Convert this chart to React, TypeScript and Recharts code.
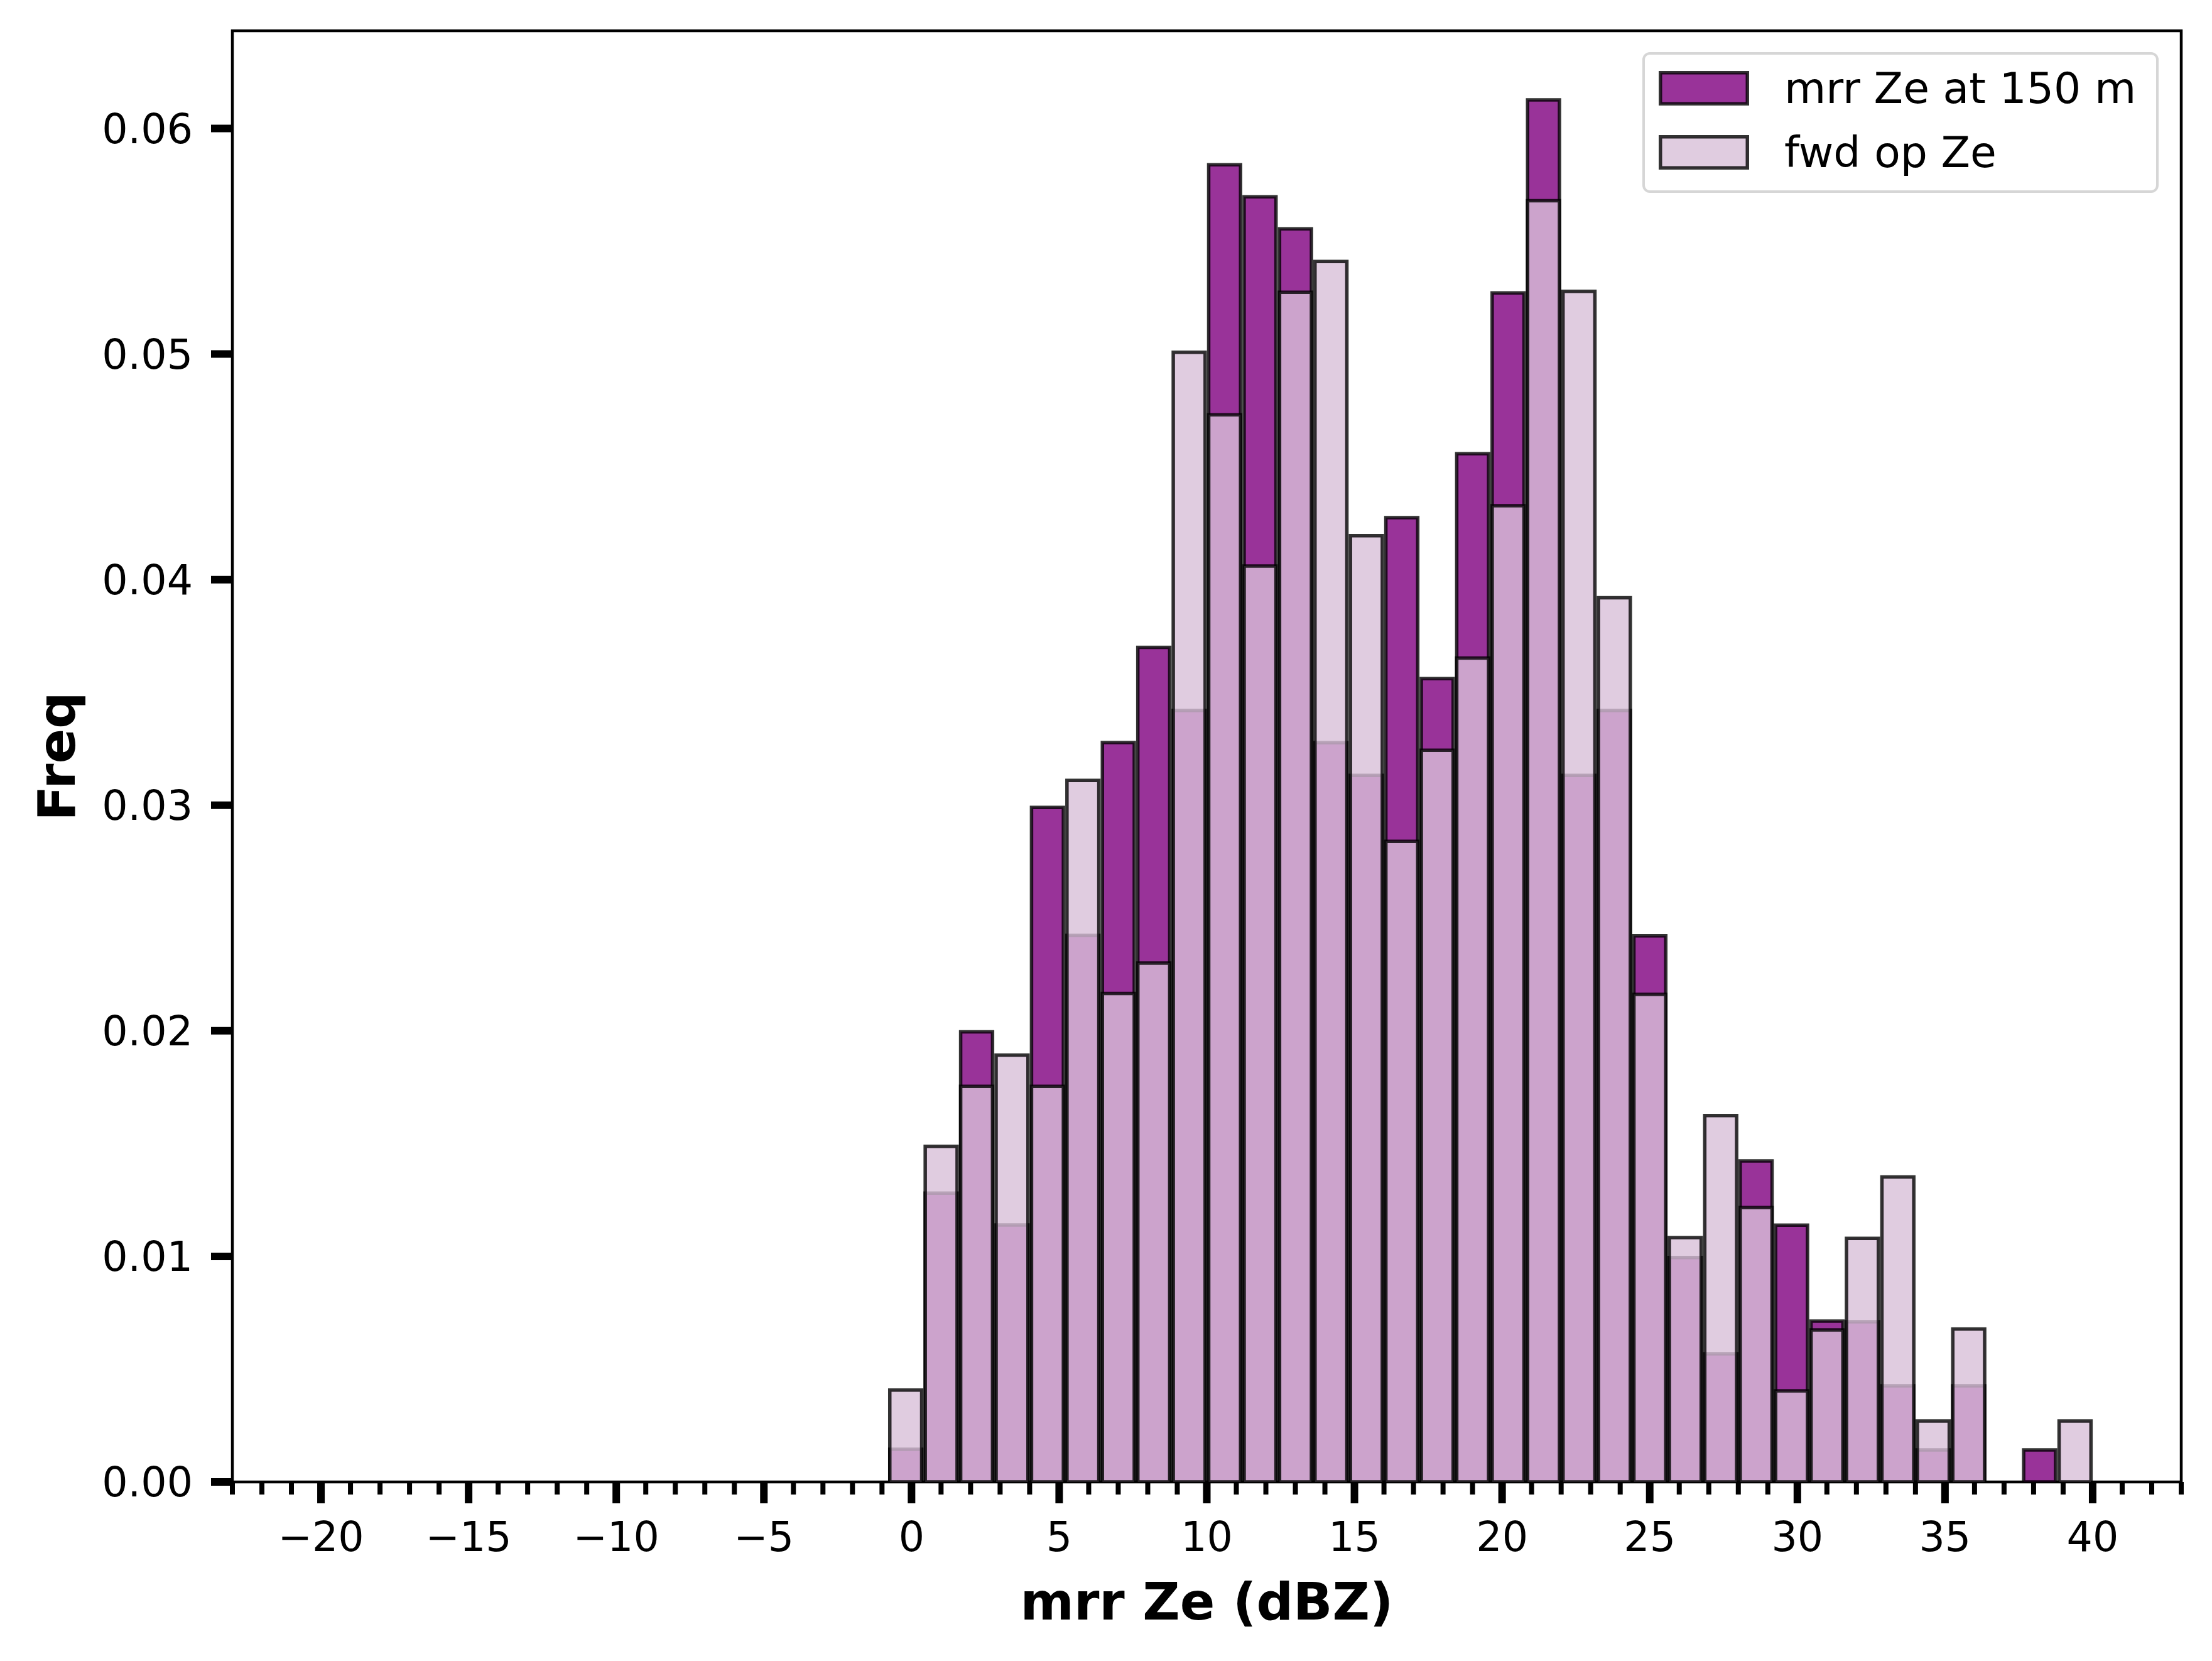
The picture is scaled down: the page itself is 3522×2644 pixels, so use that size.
import { Bar, ComposedChart, Legend, ReferenceArea, XAxis, YAxis } from "recharts";

// histogram bins (centre of each 1.2 dBZ bin)
const binCenters = [
  -0.2, 1.0, 2.2, 3.4, 4.6, 5.8, 7.0, 8.2, 9.4, 10.6, 11.8, 13.0, 14.2, 15.4, 16.6, 17.8, 19.0,
  20.2, 21.4, 22.6, 23.8, 25.0, 26.2, 27.4, 28.6, 29.8, 31.0, 32.2, 33.4, 34.6, 35.8, 37.0, 38.2, 39.4,
];

const mrrFreq = [
  0.00145, 0.0128, 0.01995, 0.01139, 0.0299, 0.02423, 0.03278, 0.037, 0.0342, 0.05839, 0.05697,
  0.05555, 0.03277, 0.03132, 0.04275, 0.03561, 0.04558, 0.05271, 0.06127, 0.03132, 0.0342, 0.02421,
  0.00995, 0.00568, 0.01423, 0.01138, 0.00713, 0.0071, 0.00426, 0.00142, 0.00426, 0, 0.00142, 0,
];

const fwdFreq = [
  0.00407, 0.01488, 0.01754, 0.01892, 0.01754, 0.0311, 0.02165, 0.023, 0.05008, 0.04731, 0.0406,
  0.05274, 0.0541, 0.04195, 0.0284, 0.03244, 0.03652, 0.04328, 0.0568, 0.05278, 0.0392, 0.02162,
  0.01083, 0.01624, 0.01216, 0.00404, 0.00674, 0.0108, 0.01352, 0.0027, 0.00678, 0, 0, 0.0027,
];

// every integer gets a minor tick, multiples of 5 get a labelled major tick
const xTicks = [
  -23, -22, -21, -20, -19, -18, -17, -16, -15, -14, -13, -12, -11, -10, -9, -8, -7, -6, -5, -4, -3,
  -2, -1, 0, 1, 2, 3, 4, 5, 6, 7, 8, 9, 10, 11, 12, 13, 14, 15, 16, 17, 18, 19, 20, 21, 22, 23, 24,
  25, 26, 27, 28, 29, 30, 31, 32, 33, 34, 35, 36, 37, 38, 39, 40, 41, 42, 43,
];
const yTicks = [0, 0.01, 0.02, 0.03, 0.04, 0.05, 0.06];

const series = [
  { key: "mrr", name: "mrr Ze at 150 m", fill: "#800080" },
  { key: "fwd", name: "fwd op Ze", fill: "#d8bfd8" },
];

const X_DOMAIN = [-23, 43];
const Y_DOMAIN = [0, 0.06433];
const BIN_WIDTH = 1.2;

const W = 3522;
const H = 2644;
const MARGIN = { top: 49, right: 49, bottom: 0, left: 0 };
const Y_AXIS_W = 370;
const X_AXIS_H = 285;
const MAJOR_LEN = 34;
const MINOR_LEN = 20;
const TICK_MARGIN = 30;
const FONT = "'DejaVu Sans', sans-serif";

const plotW = W - MARGIN.left - MARGIN.right - Y_AXIS_W;
const barPx = (BIN_WIDTH * plotW) / (X_DOMAIN[1] - X_DOMAIN[0]);

const data = binCenters.map((x, i) => ({ x, mrr: mrrFreq[i], fwd: fwdFreq[i] }));

const tickStyle = { fill: "#000", fontSize: 65, fontFamily: FONT };
const fmtX = (v: number) => (v < 0 ? `\u2212${-v}` : `${v}`);

function ZeTick(props: any) {
  const { x, y, payload } = props;
  const major = payload.value % 5 === 0;
  const axisY = y - MAJOR_LEN - TICK_MARGIN;
  return (
    <g>
      <line
        x1={x}
        x2={x}
        y1={axisY}
        y2={axisY + (major ? MAJOR_LEN : MINOR_LEN)}
        stroke="#000"
        strokeWidth={major ? 12 : 8}
      />
      {major && (
        <text x={x} y={y} dy="0.71em" textAnchor="middle" {...tickStyle}>
          {fmtX(payload.value)}
        </text>
      )}
    </g>
  );
}

function HistLegend() {
  return (
    <div
      style={{
        boxSizing: "border-box",
        width: 822,
        height: 224,
        border: "4px solid #d6d6d6",
        borderRadius: 12,
        background: "#fff",
        padding: "26px 0 0 22px",
        fontFamily: FONT,
        fontSize: 68,
        color: "#000",
      }}
    >
      {series.map((s) => (
        <div key={s.key} style={{ display: "flex", alignItems: "center", height: 55, marginBottom: 47 }}>
          <svg width={144} height={55} style={{ display: "block" }}>
            <rect
              x={2.75}
              y={2.75}
              width={138.5}
              height={49.5}
              fill={s.fill}
              fillOpacity={0.8}
              stroke="#000"
              strokeOpacity={0.8}
              strokeWidth={5.5}
            />
          </svg>
          <span style={{ marginLeft: 56, whiteSpace: "nowrap" }}>{s.name}</span>
        </div>
      ))}
    </div>
  );
}

export default function App() {
  return (
    <div style={{ position: "absolute", left: 0, top: 0, width: W, height: H, background: "#fff" }}>
      <ComposedChart width={W} height={H} data={data} margin={MARGIN}>
        <XAxis
          xAxisId="ze"
          type="number"
          dataKey="x"
          domain={X_DOMAIN}
          ticks={xTicks}
          interval={0}
          height={X_AXIS_H}
          axisLine={false}
          tickLine={false}
          tick={<ZeTick />}
          tickSize={MAJOR_LEN}
          tickMargin={TICK_MARGIN}
          allowDataOverflow
          label={{
            value: "mrr Ze (dBZ)",
            position: "insideBottom",
            offset: 66,
            style: { fill: "#000", fontSize: 82, fontWeight: "bold", fontFamily: FONT },
          }}
        />
        <XAxis xAxisId="ze2" type="number" dataKey="x" domain={X_DOMAIN} allowDataOverflow hide />
        <YAxis
          type="number"
          domain={Y_DOMAIN}
          ticks={yTicks}
          interval={0}
          width={Y_AXIS_W}
          axisLine={false}
          tick={tickStyle}
          tickFormatter={(v: number) => v.toFixed(2)}
          tickSize={MAJOR_LEN}
          tickMargin={29}
          tickLine={{ stroke: "#000", strokeWidth: 12 }}
          allowDataOverflow
          label={{
            value: "Freq",
            angle: -90,
            position: "insideLeft",
            offset: 90,
            style: { fill: "#000", fontSize: 82, fontWeight: "bold", fontFamily: FONT, textAnchor: "middle" },
          }}
        />
        <Bar
          xAxisId="ze"
          dataKey="mrr"
          name={series[0].name}
          barSize={barPx}
          fill={series[0].fill}
          fillOpacity={0.8}
          stroke="#000"
          strokeOpacity={0.8}
          strokeWidth={5.5}
          isAnimationActive={false}
        />
        <Bar
          xAxisId="ze2"
          dataKey="fwd"
          name={series[1].name}
          barSize={barPx}
          fill={series[1].fill}
          fillOpacity={0.8}
          stroke="#000"
          strokeOpacity={0.8}
          strokeWidth={5.5}
          isAnimationActive={false}
        />
        <ReferenceArea
          xAxisId="ze"
          x1={X_DOMAIN[0]}
          x2={X_DOMAIN[1]}
          y1={Y_DOMAIN[0]}
          y2={Y_DOMAIN[1]}
          fill="none"
          stroke="#000"
          strokeWidth={4.5}
          ifOverflow="visible"
        />
        <Legend
          layout="vertical"
          align="center"
          verticalAlign="middle"
          content={() => <HistLegend />}
          wrapperStyle={{ left: 2615, top: 83, width: 822, height: 224 }}
        />
      </ComposedChart>
    </div>
  );
}
